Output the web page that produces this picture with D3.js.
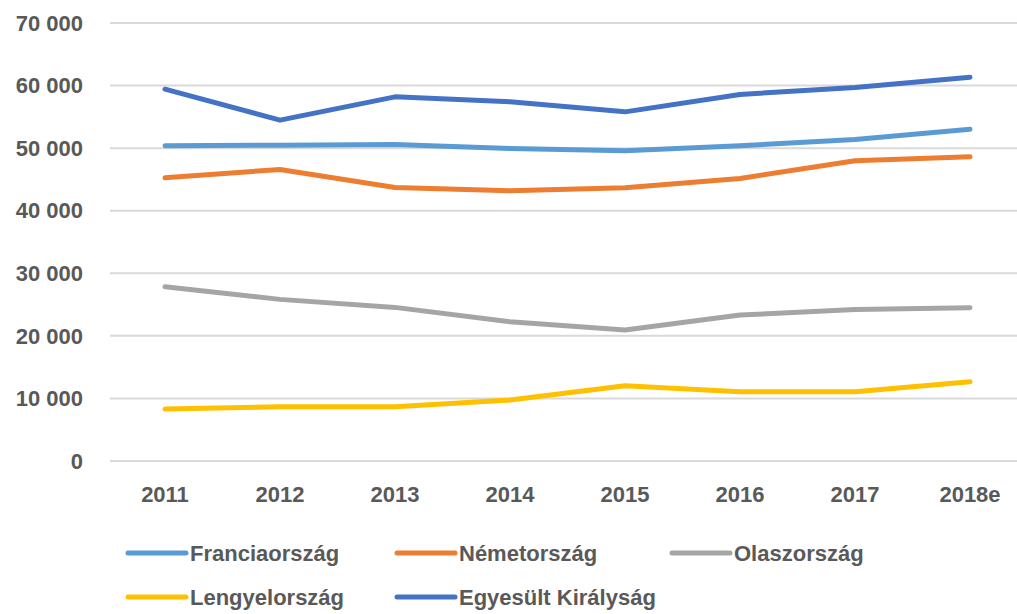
<!DOCTYPE html>
<html>
<head>
<meta charset="utf-8">
<script src="https://cdn.jsdelivr.net/npm/d3@7"></script>
<style>
  body { margin: 0; background: #fff; }
  text { font-family: "Liberation Sans", Arial, sans-serif; font-weight: bold; fill: #595959; }
</style>
</head>
<body>
<div id="chart"></div>
<script>
var w = 1017;
var h = 614;

// categories and series
var years = ["2011", "2012", "2013", "2014", "2015", "2016", "2017", "2018e"];
var yTicks = [0, 10000, 20000, 30000, 40000, 50000, 60000, 70000];
var seriesNames = ["Franciaország", "Németország", "Olaszország", "Lengyelország", "Egyesült Királyság"];
var franciaorszag = [50370, 50480, 50600, 49950, 49570, 50370, 51390, 53030];
var nemetorszag = [45260, 46600, 43720, 43180, 43660, 45160, 47970, 48610];
var olaszorszag = [27840, 25830, 24550, 22260, 20930, 23320, 24230, 24490];
var lengyelorszag = [8310, 8680, 8680, 9740, 12030, 11070, 11070, 12670];
var egyesultKiralysag = [59420, 54470, 58200, 57400, 55800, 58580, 59700, 61340];
var colors = ["#5B9BD5", "#ED7D31", "#A5A5A5", "#FFC000", "#4472C4"];

var series = [franciaorszag, nemetorszag, olaszorszag, lengyelorszag, egyesultKiralysag];

var svg = d3.select("#chart")
  .append("svg")
  .attr("width", w)
  .attr("height", h);

var x = d3.scalePoint()
  .domain(years)
  .range([165, 970]);

var y = d3.scaleLinear()
  .domain([0, 70000])
  .range([461, 23]);

var fmt = function(v) { return d3.format(",")(v).replace(/,/g, " "); };

// gridlines
svg.append("g")
  .selectAll("line")
  .data(yTicks)
  .enter()
  .append("line")
  .attr("x1", 110)
  .attr("x2", w)
  .attr("y1", function(d) { return y(d); })
  .attr("y2", function(d) { return y(d); })
  .style("stroke", "#d9d9d9")
  .style("stroke-width", 2);

// y labels
svg.append("g")
  .selectAll("text")
  .data(yTicks)
  .enter()
  .append("text")
  .attr("x", 83)
  .attr("y", function(d) { return y(d); })
  .attr("dy", "0.35em")
  .style("text-anchor", "end")
  .style("font-size", "22px")
  .text(function(d) { return fmt(d); });

// x labels
svg.append("g")
  .selectAll("text")
  .data(years)
  .enter()
  .append("text")
  .attr("x", function(d) { return x(d); })
  .attr("y", 494)
  .attr("dy", "0.35em")
  .style("text-anchor", "middle")
  .style("font-size", "22px")
  .text(function(d) { return d; });

// lines
var line = d3.line()
  .x(function(d, i) { return x(years[i]); })
  .y(function(d) { return y(d); });

svg.append("g")
  .selectAll("path")
  .data(series)
  .enter()
  .append("path")
  .attr("d", line)
  .style("fill", "none")
  .style("stroke", function(d, i) { return colors[i]; })
  .style("stroke-width", 5)
  .style("stroke-linecap", "round")
  .style("stroke-linejoin", "round");

// legend, second row pulled up a little so it is not clipped
var legendPos = [[126, 553], [395, 553], [670, 553], [126, 597], [395, 597]];
var legend = svg.append("g")
  .selectAll("g")
  .data(seriesNames)
  .enter()
  .append("g")
  .attr("transform", function(d, i) { return "translate(" + legendPos[i][0] + "," + legendPos[i][1] + ")"; });

legend.append("line")
  .attr("x1", 2)
  .attr("x2", 60)
  .style("stroke", function(d, i) { return colors[i]; })
  .style("stroke-width", 5)
  .style("stroke-linecap", "round");

legend.append("text")
  .attr("x", 64)
  .attr("dy", "0.35em")
  .style("font-size", "22px")
  .text(function(d) { return d; });
</script>
</body>
</html>
